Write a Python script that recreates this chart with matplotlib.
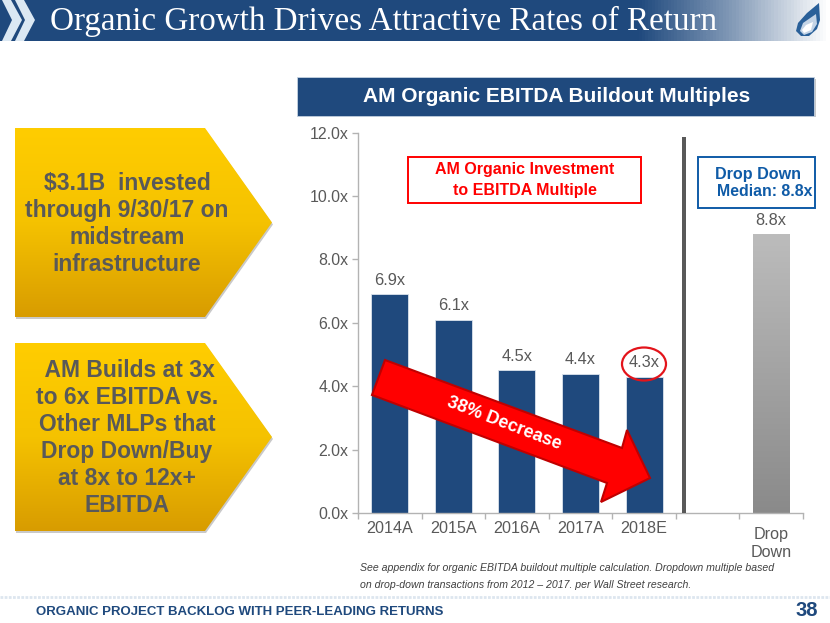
import numpy as np
import matplotlib
matplotlib.use('Agg')
import matplotlib.pyplot as plt
from matplotlib.colors import LinearSegmentedColormap
from matplotlib.patches import Polygon, Rectangle, Ellipse

W, H = 830, 623

categories = ['2014A', '2015A', '2016A', '2017A', '2018E', '', 'Drop\nDown']
values = [6.9, 6.1, 4.5, 4.4, 4.3, None, 8.8]
value_labels = ['6.9x', '6.1x', '4.5x', '4.4x', '4.3x', '', '8.8x']
y_ticks = [0, 2, 4, 6, 8, 10, 12]
y_tick_labels = ['0.0x', '2.0x', '4.0x', '6.0x', '8.0x', '10.0x', '12.0x']

NAVY = '#1f497d'
GREY = '#595959'
plt.rcParams['font.family'] = ['Liberation Sans', 'DejaVu Sans']

fig = plt.figure(figsize=(W / 100, H / 100), dpi=100, facecolor='white')


def px_axes(z):
    a = fig.add_axes([0, 0, 1, 1], zorder=z)
    a.set_xlim(0, W)
    a.set_ylim(H, 0)
    a.axis('off')
    a.patch.set_alpha(0)
    return a


def gradient(a, colors, extent, clip=None, horizontal=False, z=1):
    cmap = LinearSegmentedColormap.from_list('g', colors)
    g = np.linspace(0, 1, 256)
    g = g.reshape(1, -1) if horizontal else g.reshape(-1, 1)
    im = a.imshow(g, cmap=cmap, extent=extent, aspect='auto', zorder=z, interpolation='bilinear')
    if clip is not None:
        im.set_clip_path(clip)
    return im


bg = px_axes(1)

# header band
gradient(bg, [(0, NAVY), (0.77, NAVY), (0.88, '#7f97b5'), (1, '#ffffff')], (0, W, 41, 0), horizontal=True)
bg.set_xlim(0, W)
bg.set_ylim(H, 0)
for x0 in [2, 15]:
    bg.add_patch(Polygon([(x0, 0), (x0 + 9, 0), (x0 + 20, 20), (x0 + 9, 41), (x0, 41), (x0 + 10, 20)],
                         closed=True, fc='#dbe8f3', ec='none', zorder=3))
bg.text(50, 21, 'Organic Growth Drives Attractive Rates of Return', color='white', fontsize=23.9,
        family='Liberation Serif', va='center', ha='left', zorder=4)

# gas drop logo
bg.add_patch(Polygon([(819, 3), (820, 20), (817, 29), (809, 36), (801, 36), (796, 31), (798, 23), (807, 13)],
                     closed=True, fc='#2a6099', ec='none', zorder=3))
bg.add_patch(Polygon([(816, 14), (817, 24), (812, 32), (804, 35), (800, 31), (803, 23)],
                     closed=True, fc='#c4d4e6', ec='none', zorder=4))
bg.add_patch(Polygon([(813, 22), (811, 30), (804, 33), (802, 30), (806, 25)],
                     closed=True, fc='white', ec='none', zorder=5))

# chart heading
bg.add_patch(Rectangle((299, 79), 517, 38, fc='#c8c8c8', ec='none', zorder=2))
bg.add_patch(Rectangle((297, 77), 517, 39, fc=NAVY, ec='#c5d3e2', lw=0.6, zorder=3))
bg.text(557, 97, 'AM Organic EBITDA Buildout Multiples', color='white', fontsize=15, fontweight='bold',
        ha='center', va='center', zorder=4)

# yellow callouts
callouts = [
    (128, 317, '$3.1B  invested\nthrough 9/30/17 on\nmidstream\ninfrastructure', 127, 224),
    (343, 531, ' AM Builds at 3x\nto 6x EBITDA vs.\nOther MLPs that\nDrop Down/Buy\nat 8x to 12x+\nEBITDA', 127, 438),
]
for y_top, y_bot, txt, tx, ty in callouts:
    mid = (y_top + y_bot) / 2
    pts = [(15, y_top), (205, y_top), (272, mid), (205, y_bot), (15, y_bot)]
    bg.add_patch(Polygon([(p[0] + 1, p[1] + 2) for p in pts], closed=True, fc='#c9c9c9', ec='none', zorder=1))
    shape = Polygon(pts, closed=True, fc='none', ec='none', zorder=2)
    bg.add_patch(shape)
    gradient(bg, ['#ffcd00', '#f5c200', '#d89c00'], (15, 272, y_bot, y_top), clip=shape, z=2)
    bg.text(tx, ty, txt, color=GREY, fontsize=16.5, fontweight='bold', ha='center', va='center',
            linespacing=1.22, zorder=4)
bg.set_xlim(0, W)
bg.set_ylim(H, 0)

# footnote and footer
bg.text(360, 568, 'See appendix for organic EBITDA buildout multiple calculation. Dropdown multiple based',
        color='#404040', fontsize=7.55, style='italic', va='center')
bg.text(360, 585, 'on drop-down transactions from 2012 \u2013 2017. per Wall Street research.',
        color='#404040', fontsize=7.55, style='italic', va='center')
bg.plot([0, W], [597, 597], color='#dde6ef', lw=2, ls=(0, (1, 0.5)), zorder=2)
bg.text(36, 612, 'ORGANIC PROJECT BACKLOG WITH PEER-LEADING RETURNS', color=NAVY, fontsize=9.5,
        fontweight='bold', va='center')
bg.text(818, 611, '38', color=NAVY, fontsize=14.5, fontweight='bold', ha='right', va='center')

# bar chart
ax = fig.add_axes([358 / W, 1 - 513 / H, (803 - 358) / W, (513 - 132.7) / H], zorder=2)
ax.patch.set_alpha(0)
xs = np.arange(len(categories))
heights = [0 if v is None else v for v in values]
bars = ax.bar(xs, heights, width=0.58, color=NAVY, edgecolor='#dbe3ec', linewidth=0.6, zorder=2)

# drop down bar is a grey gradient
drop = bars[6]
drop.set_facecolor('none')
drop.set_edgecolor('none')
gradient(ax, ['#bcbcbc', '#8a8a8a'], (drop.get_x(), drop.get_x() + drop.get_width(), 0, drop.get_height()),
         clip=drop, z=2)

ax.set_xlim(-0.5, len(categories) - 0.5)
ax.set_ylim(0, 12)
ax.set_yticks(y_ticks)
ax.set_yticklabels(y_tick_labels)
ax.set_xticks(xs)
ax.set_xticklabels(categories, linespacing=1.25)
ax.set_xticks(np.arange(-0.5, len(categories)), minor=True)
ax.tick_params(axis='x', which='major', length=0, labelsize=11.6, labelcolor=GREY, pad=6)
ax.tick_params(axis='x', which='minor', length=4, color='#b3b3b3', width=1)
ax.tick_params(axis='y', length=4, color='#b3b3b3', width=1, labelsize=11.4, labelcolor=GREY, pad=3)
ax.xaxis.get_major_ticks()[6].set_pad(10)
for s in ['top', 'right']:
    ax.spines[s].set_visible(False)
for s in ['left', 'bottom']:
    ax.spines[s].set_color('#b3b3b3')
    ax.spines[s].set_linewidth(1)

for x, v, lab in zip(xs, values, value_labels):
    if v is not None:
        ax.annotate(lab, (x, v), xytext=(0, 4.5), textcoords='offset points', ha='center', va='bottom',
                    color=GREY, fontsize=11.8, zorder=5)

# overlay shapes
over = px_axes(3)
over.add_patch(Rectangle((682, 137), 4, 376, fc=GREY, ec='none'))
over.add_patch(Rectangle((408, 157), 233, 46, fc='white', ec='#ff0000', lw=1.4))
over.text(525, 180, 'AM Organic Investment\nto EBITDA Multiple', color='#ff0000', fontsize=11.5, fontweight='bold',
          ha='center', va='center', linespacing=1.5)
over.add_patch(Rectangle((698, 157), 117, 51, fc='white', ec='#0f5ba7', lw=1.4))
over.text(715, 174, 'Drop Down', color='#0f5ba7', fontsize=11.6, fontweight='bold', ha='left', va='center')
over.text(717, 192, 'Median: 8.8x', color='#0f5ba7', fontsize=11.4, fontweight='bold', ha='left', va='center')
over.add_patch(Ellipse((644, 364), 44, 33, fc='none', ec='#e3141b', lw=1.6))
over.add_patch(Polygon([(385, 360), (622, 448), (627, 430), (650, 478), (601, 502), (607, 483), (372, 395)],
                       closed=True, fc='#ff0000', ec='#c00000', lw=1.5))
over.text(504, 424, '38% Decrease', color='white', fontsize=13, fontweight='bold', rotation=-21,
          rotation_mode='anchor', ha='center', va='center')

fig.savefig('out.png', dpi=100)
